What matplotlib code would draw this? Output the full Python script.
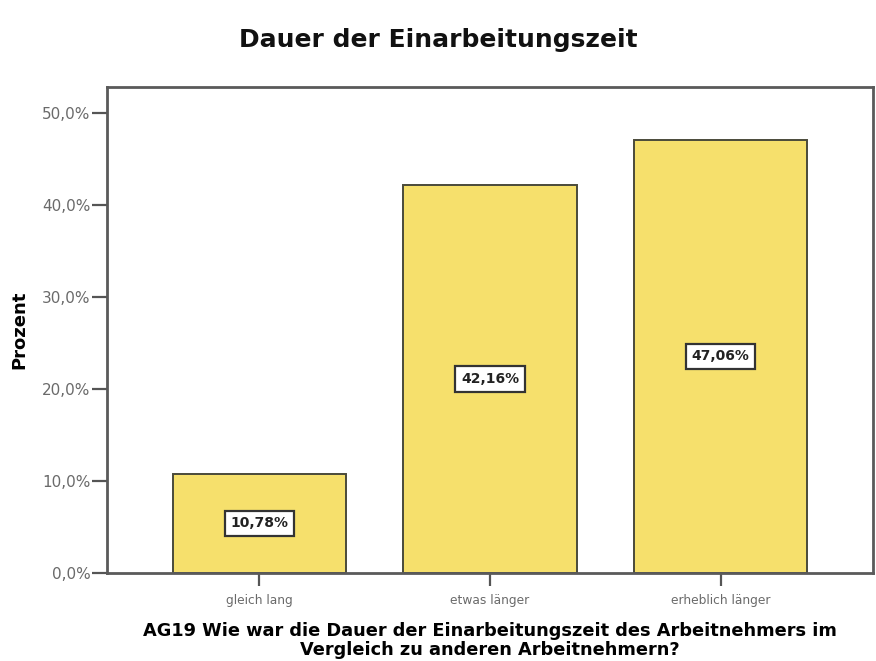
import matplotlib
matplotlib.use("Agg")
import matplotlib.pyplot as plt

categories = ["gleich lang", "etwas länger", "erheblich länger"]
values = [10.78, 42.16, 47.06]
yticks = [0, 10, 20, 30, 40, 50]
ytick_labels = ["0,0%", "10,0%", "20,0%", "30,0%", "40,0%", "50,0%"]
value_labels = ["10,78%", "42,16%", "47,06%"]

plt.rcParams['font.family'] = ['DejaVu Sans']

fig = plt.figure(figsize=(8.76, 6.61), dpi=100)
ax = fig.add_axes([0.1221, 0.1331, 0.8745, 0.7353])

x = list(range(len(categories)))
ax.bar(x, values, width=0.75, color="#F6E06C", edgecolor="#4a4a3a", linewidth=1.4, zorder=2)

for xi, v, lab in zip(x, values, value_labels):
    ax.text(xi, v / 2, lab, ha="center", va="center", fontsize=10, fontweight="bold",
            color="#222222",
            bbox=dict(boxstyle="square,pad=0.4", facecolor="white", edgecolor="#333333", linewidth=1.6),
            zorder=3)

ax.set_xlim(-0.66, 2.66)
ax.set_ylim(0, 52.8)
ax.set_yticks(yticks)
ax.set_yticklabels(ytick_labels, fontsize=11, color="#6a6a6a")
ax.set_xticks(x)
ax.set_xticklabels(categories, fontsize=8.8, color="#6a6a6a")
ax.tick_params(axis="y", direction="out", length=11, width=1.6, color="#555555", pad=1)
ax.tick_params(axis="x", direction="out", length=9, width=1.6, color="#555555", pad=6)

for s in ax.spines.values():
    s.set_color("#5a5a5a")
    s.set_linewidth(2.0)

ax.set_ylabel("Prozent", fontsize=13, fontweight="bold", labelpad=10)
ax.set_xlabel("AG19 Wie war die Dauer der Einarbeitungszeit des Arbeitnehmers im\nVergleich zu anderen Arbeitnehmern?",
              fontsize=12.8, fontweight="bold", labelpad=11, linespacing=1.05)

fig.text(0.5, 0.94, "Dauer der Einarbeitungszeit", ha="center", va="center",
         fontsize=18, fontweight="bold", color="#111111")

fig.savefig("out.png", dpi=100)
